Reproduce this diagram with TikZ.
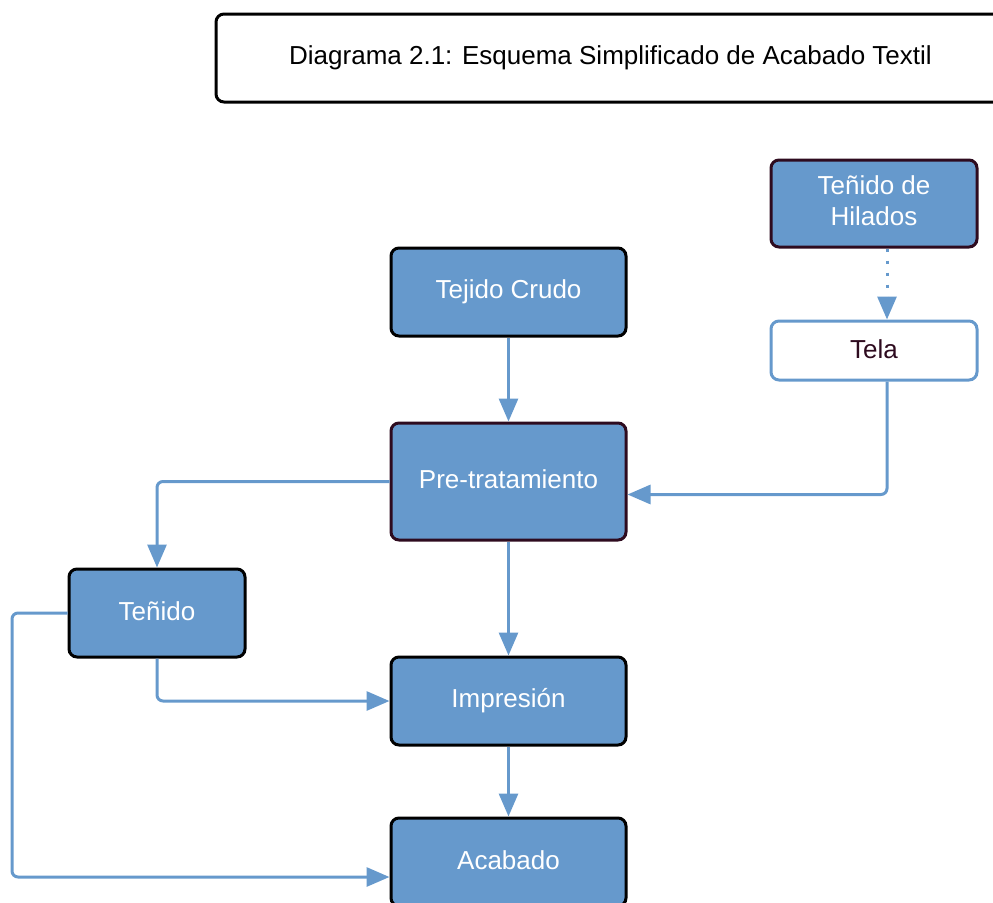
\documentclass[tikz,border=0pt]{standalone}
\usepackage{fontspec}
\setmainfont{Liberation Sans}
\usetikzlibrary{arrows.meta}
\definecolor{boxblue}{HTML}{6699CC}
\definecolor{plum}{HTML}{2E0B1F}
\tikzset{
  box/.style={draw=black, line width=3pt, fill=boxblue, rounded corners=8pt, text=white, font=\fontsize{26}{30}\selectfont, align=center, inner sep=0pt},
  pbox/.style={box, draw=plum},
  wbox/.style={box, draw=boxblue, fill=white, text=plum},
  titlebox/.style={draw=black, line width=3pt, fill=white, rounded corners=8pt, font=\fontsize{26}{30}\selectfont, inner sep=0pt},
  arr/.style={draw=boxblue, line width=3pt, rounded corners=6pt, -{Triangle[length=23pt,width=19pt]}},
  dotarr/.style={draw=boxblue, line width=3pt, dash pattern=on 3pt off 9pt, -{Triangle[length=23pt,width=19pt]}}
}
\begin{document}
\begin{tikzpicture}[x=1pt,y=-1pt]
\useasboundingbox (0,0) rectangle (993,902);
\node[titlebox, minimum width=789pt, minimum height=88pt] (title) at (610.5,58) {\raisebox{4pt}{Diagrama 2.1: Esquema Simplificado de Acabado Textil}};
\node[pbox, minimum width=206pt, minimum height=87pt] (th) at (874,203.5) {\raisebox{4pt}{\begin{tabular}{@{}c@{}}Teñido de\\[1pt]Hilados\end{tabular}}};
\node[wbox, minimum width=206pt, minimum height=59pt] (tela) at (874,350.5) {\raisebox{2pt}{Tela}};
\node[box, minimum width=235pt, minimum height=88pt] (tc) at (508.5,292) {\raisebox{3pt}{Tejido Crudo}};
\node[pbox, minimum width=235pt, minimum height=117pt] (pre) at (508.5,481.5) {\raisebox{4pt}{Pre-tratamiento}};
\node[box, minimum width=176pt, minimum height=88pt] (ten) at (157,613) {\raisebox{3pt}{Teñido}};
\node[box, minimum width=235pt, minimum height=88pt] (imp) at (508.5,701) {\raisebox{3pt}{Impresión}};
\node[box, minimum width=235pt, minimum height=88pt] (acab) at (508.5,862) {\raisebox{4pt}{Acabado}};
\coordinate (telain) at ([yshift=-13pt]pre.east);
\coordinate (acabin) at ([yshift=-15pt]acab.west);
\coordinate (leftx) at (12,0);
\draw[dotarr] (th.south -| 887,0) -- (tela.north -| 887,0);
\draw[arr] (tc) -- (pre);
\draw[arr] (tela.south -| 887,0) |- (telain);
\draw[arr] (pre.west) -| (ten.north);
\draw[arr] (pre) -- (imp);
\draw[arr] (ten.south) |- (imp.west);
\draw[arr] (imp) -- (acab);
\draw[arr] (ten.west) -- (ten.west -| leftx) -- (leftx |- acabin) -- (acabin);
\end{tikzpicture}
\end{document}
